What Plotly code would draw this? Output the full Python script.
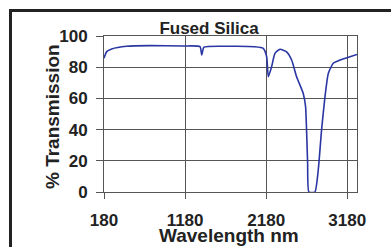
import plotly.graph_objects as go

wavelength_nm = [180, 213, 275, 460, 747, 1158, 1364, 1385, 1413, 1700, 2042, 2144, 2186, 2206,
                 2247, 2288, 2350, 2432, 2494, 2555, 2637, 2666, 2678, 2691, 2707, 2781, 2822,
                 2863, 2905, 2946, 3007, 3110, 3213, 3300]
transmission = [85.7, 90.0, 91.7, 93.4, 93.8, 93.6, 93.2, 87.8, 92.8, 93.4, 93.1, 92.1, 86.7, 73.9,
                80.3, 88.9, 91.5, 89.9, 84.6, 73.9, 63.2, 54.7, 39.7, 18.4, 0.0, 0.0, 14.0,
                39.7, 61.0, 76.0, 82.5, 85.0, 86.7, 88.2]
x_ticks = [180, 1180, 2180, 3180]
y_ticks = [0, 20, 40, 60, 80, 100]

W, H = 391, 247
L, R, T, B = 104, 357, 36, 192

def px(xp):
    return (xp - L) / (R - L)

def py(yp):
    return (B - yp) / (B - T)

fig = go.Figure()
fig.add_trace(go.Scatter(
    x=wavelength_nm, y=transmission, mode="lines",
    line=dict(color="#2a36a3", width=1.6, shape="spline", smoothing=0.5),
    showlegend=False, hoverinfo="skip",
))

font = dict(family="Liberation Sans, Arial, sans-serif", color="#222222")

frame = dict(color="#222222", width=3)

fig.update_layout(
    width=W, height=H,
    margin=dict(l=L, r=W - R, t=T, b=H - B, pad=0, autoexpand=False),
    paper_bgcolor="white", plot_bgcolor="white",
    font=font,
    title=dict(text="<b>Fused Silica</b>", x=px(209), xref="paper", xanchor="center",
               y=1 - 28 / H, yref="container", yanchor="middle", automargin=False,
               font=dict(size=17, family=font["family"], color="#222222")),
    xaxis=dict(
        range=[180, 3300], tickvals=x_ticks, ticktext=[str(v) for v in x_ticks],
        showgrid=True, gridcolor="#555555", gridwidth=1,
        showline=True, linecolor="#555555", linewidth=1, mirror=True,
        ticks="outside", ticklen=6, tickcolor="#555555", tickwidth=1,
        tickfont=dict(size=17, weight="bold", family=font["family"], color="#222222"),
        ticklabelstandoff=7, automargin=False,
        zeroline=False,
    ),
    yaxis=dict(
        range=[0, 100], tickvals=y_ticks,
        showgrid=True, gridcolor="#555555", gridwidth=1,
        showline=True, linecolor="#555555", linewidth=1, mirror=True,
        ticks="outside", ticklen=7, tickcolor="#555555", tickwidth=1,
        tickfont=dict(size=17, weight="bold", family=font["family"], color="#222222"),
        ticklabelstandoff=5, automargin=False,
        zeroline=False,
    ),
    annotations=[
        dict(text="<b>Wavelength nm</b>", xref="paper", yref="paper",
             x=px(229), y=py(235), xanchor="center", yanchor="middle", showarrow=False,
             font=dict(size=19, family=font["family"], color="#222222")),
        dict(text="<b>% Transmission</b>", xref="paper", yref="paper", textangle=-90,
             x=px(53), y=py(117), xanchor="center", yanchor="middle", showarrow=False,
             font=dict(size=19, family=font["family"], color="#222222")),
    ],
    shapes=[
        dict(type="line", xref="paper", yref="paper",
             x0=px(10.5), x1=px(10.5), y0=py(250), y1=py(9), line=frame),
        dict(type="line", xref="paper", yref="paper",
             x0=px(9), x1=px(395), y0=py(10.5), y1=py(10.5), line=frame),
    ],
)

fig.write_html(
    "out.html",
    config={"displayModeBar": False},
    post_script="document.body.style.margin='0';document.body.style.overflow='hidden';",
)
